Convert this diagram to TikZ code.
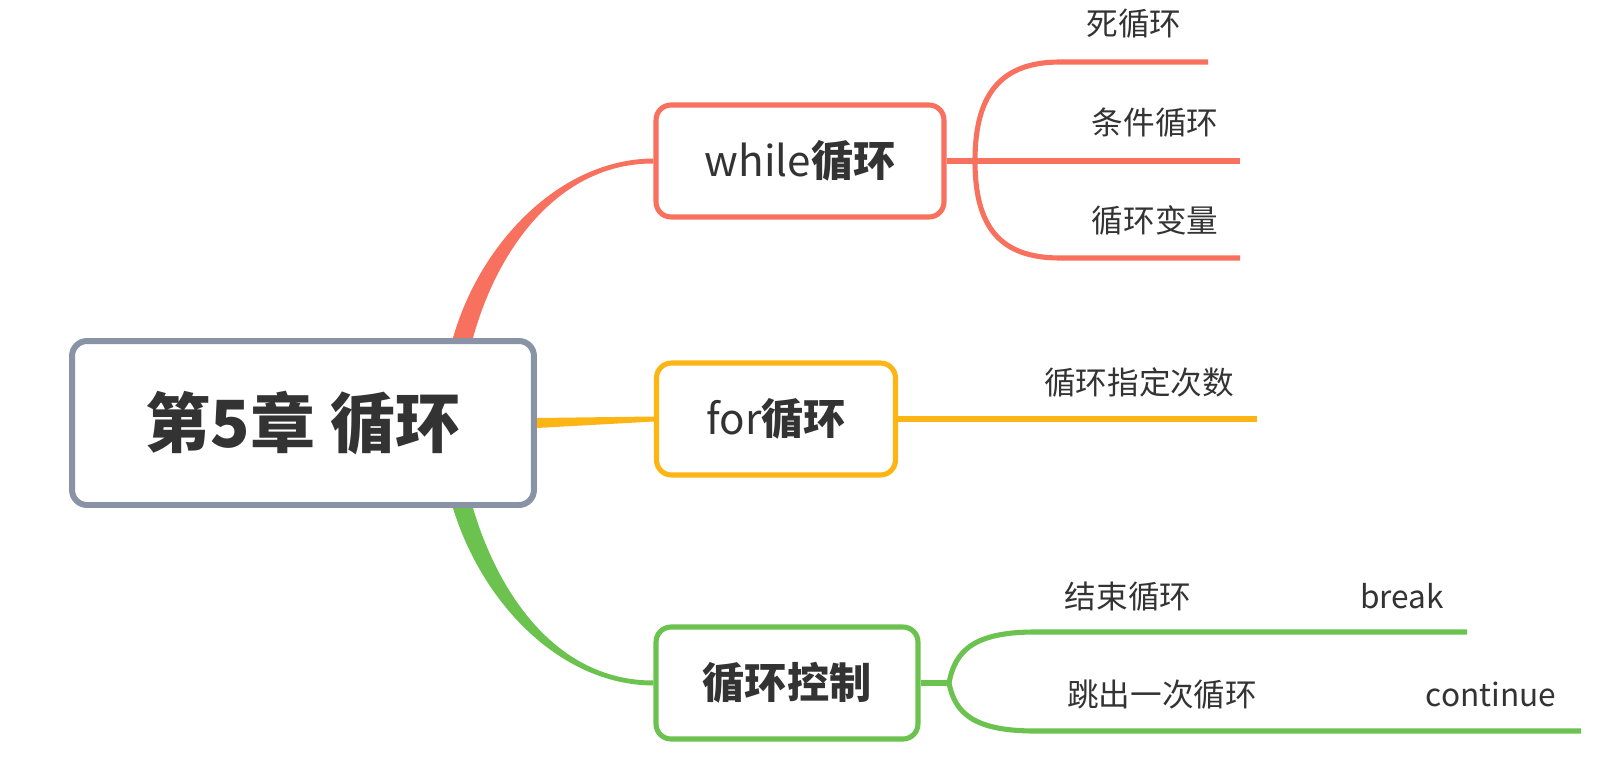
\documentclass[tikz,border=0pt]{standalone}
\usepackage{fontspec}
\setmainfont{Noto Sans CJK SC}
\usetikzlibrary{backgrounds}

\definecolor{ctext}{HTML}{333333}
\definecolor{cgrey}{HTML}{8893A6}
\definecolor{cwhile}{HTML}{F8705E}
\definecolor{cfor}{HTML}{FDB515}
\definecolor{cctrl}{HTML}{6CC24F}

\tikzset{
  central/.style={draw=cgrey, line width=3.4pt, rounded corners=0.3cm, fill=white,
    minimum width=9.24cm, minimum height=3.28cm, text=ctext,
    font=\fontsize{37}{40}\selectfont\bfseries},
  topic/.style={draw=#1, line width=2.9pt, rounded corners=0.3cm, fill=white,
    minimum height=2.24cm, text=ctext, font=\fontsize{24}{27}\selectfont},
  leaf/.style={anchor=base, text=ctext, font=\fontsize{18}{20}\selectfont},
  twig/.style={draw=#1, line width=2.9pt}
}

\begin{document}
\begin{tikzpicture}[x=0.02cm, y=-0.02cm]
\useasboundingbox (0,0) rectangle (1620,784);

% main nodes
\node[central] (ch5) at (303,423) {第5章 循环};
\node[topic=cwhile, minimum width=5.76cm] (while) at (800,161) {while\textbf{循环}};
\node[topic=cfor, minimum width=4.78cm] (for) at (776,419) {for\textbf{循环}};
\node[topic=cctrl, minimum width=5.24cm] (ctrl) at (787,683) {\textbf{循环控制}};

% leaves
\node[leaf] (dead) at (1134,36) {死循环};
\node[leaf] (cond) at (1155,134) {条件循环};
\node[leaf] (var) at (1155,233) {循环变量};
\node[leaf] (times) at (1139,394) {循环指定次数};
\node[leaf] (stop) at (1128,608) {结束循环};
\node[leaf] (brk) at (1402,608) {break};
\node[leaf] (skip) at (1162,706) {跳出一次循环};
\node[leaf] (cont) at (1491,706) {continue};

\coordinate (wfork) at (975,161);
\coordinate (w1) at (1208,62);
\coordinate (w2) at (1240,161);
\coordinate (w3) at (1240,258);
\coordinate (f1) at (1257,419);
\coordinate (cfork) at (949,683);
\coordinate (c1) at (1467,632);
\coordinate (c2) at (1581,731);

\begin{scope}[on background layer]
% tapered branches from the centre
\fill[cwhile] ([xshift=3.0cm]ch5.north) .. controls (480,243) and (560,159) .. ([yshift=0.05cm]while.west)
  -- ([yshift=-0.05cm]while.west) .. controls (560,163) and (498,247) .. ([xshift=3.4cm]ch5.north) -- cycle;
\fill[cfor] ([yshift=0.1cm]ch5.east) -- ([yshift=0.05cm]for.west)
  -- ([yshift=-0.05cm]for.west) -- ([yshift=-0.1cm]ch5.east) -- cycle;
\fill[cctrl] ([xshift=3.0cm]ch5.south) .. controls (482,603) and (560,685) .. ([yshift=-0.05cm]ctrl.west)
  -- ([yshift=0.05cm]ctrl.west) .. controls (560,681) and (500,599) .. ([xshift=3.4cm]ch5.south) -- cycle;

% while
\draw[twig=cwhile] (while.east) -- (wfork) -- (w2);
\draw[twig=cwhile] (wfork) .. controls (975,95) and (1000,62) .. (1060,62) -- (w1);
\draw[twig=cwhile] (wfork) .. controls (975,227) and (1000,258) .. (1060,258) -- (w3);
% for
\draw[twig=cfor] (for.east) -- (f1);
% control
\draw[twig=cctrl] (ctrl.east) -- (cfork);
\draw[twig=cctrl] (cfork) .. controls (955,650) and (975,632) .. (1035,632) -- (c1);
\draw[twig=cctrl] (cfork) .. controls (955,714) and (975,731) .. (1035,731) -- (c2);
\end{scope}
\end{tikzpicture}
\end{document}
